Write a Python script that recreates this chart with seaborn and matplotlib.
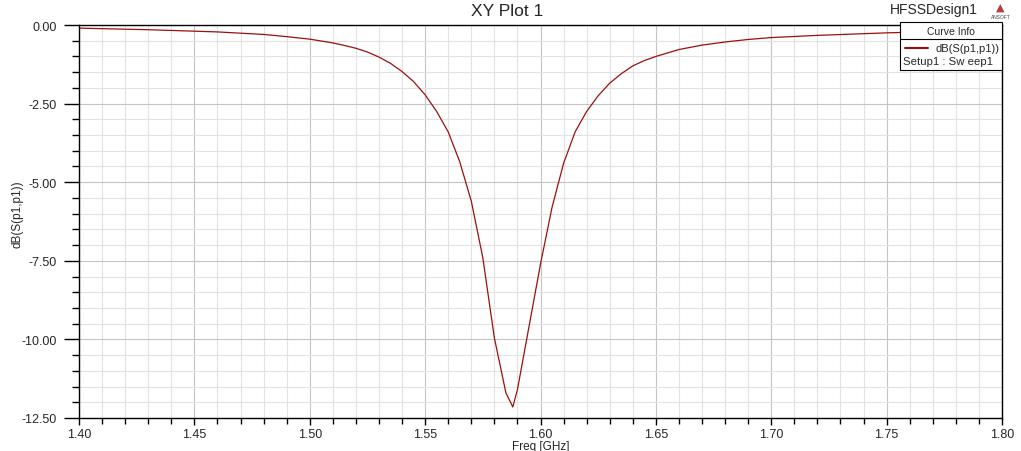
import matplotlib
matplotlib.use("Agg")
import matplotlib.pyplot as plt
import seaborn as sns
import pandas as pd
from matplotlib.ticker import MultipleLocator, FormatStrFormatter
from matplotlib.patches import Rectangle
from matplotlib.lines import Line2D

# values
freq = [1.40, 1.43, 1.46, 1.48, 1.49, 1.50, 1.505, 1.51, 1.515, 1.52, 1.525,
        1.53, 1.535, 1.54, 1.545, 1.55, 1.555, 1.56, 1.565, 1.57, 1.575,
        1.58, 1.585, 1.588, 1.59, 1.595, 1.60, 1.605, 1.61, 1.615, 1.62,
        1.625, 1.63, 1.635, 1.64, 1.645, 1.65, 1.66, 1.67, 1.68, 1.69,
        1.70, 1.72, 1.75, 1.78, 1.80]
s11_db = [-0.10, -0.15, -0.22, -0.30, -0.37, -0.45, -0.51, -0.57, -0.65, -0.74, -0.86,
          -1.02, -1.22, -1.48, -1.80, -2.22, -2.75, -3.40, -4.35, -5.60, -7.40,
          -9.95, -11.70, -12.15, -11.60, -9.60, -7.60, -5.80, -4.40, -3.40, -2.75,
          -2.25, -1.85, -1.55, -1.30, -1.13, -1.00, -0.78, -0.64, -0.54, -0.46,
          -0.40, -0.33, -0.25, -0.19, -0.16]

curve_label = "dB(S(p1,p1))"
sweep_label = "Setup1 : Sw eep1"

df = pd.DataFrame({"Freq [GHz]": freq, curve_label: s11_db})

sns.set_theme(style="white")
plt.rcParams["font.family"] = ["Liberation Sans", "DejaVu Sans"]

fig = plt.figure(figsize=(10.21, 4.52), dpi=100)
ax = fig.add_axes([79 / 1021, 1 - 419 / 452, (1002 - 79) / 1021, (419 - 26) / 452])

sns.lineplot(data=df, x="Freq [GHz]", y=curve_label, ax=ax, color="#9a1010",
             linewidth=0.9, sort=False, estimator=None)

ax.set_xlim(1.40, 1.80)
ax.set_ylim(-12.5, 0.0)
ax.xaxis.set_major_locator(MultipleLocator(0.05))
ax.xaxis.set_minor_locator(MultipleLocator(0.01))
ax.yaxis.set_major_locator(MultipleLocator(2.5))
ax.yaxis.set_minor_locator(MultipleLocator(0.5))
ax.xaxis.set_major_formatter(FormatStrFormatter("%.2f"))
ax.yaxis.set_major_formatter(FormatStrFormatter("%.2f"))

ax.grid(which="minor", color="#e2e2e2", linewidth=0.8)
ax.grid(which="major", color="#c4c4c4", linewidth=0.8)
ax.set_axisbelow(True)

for sp in ax.spines.values():
    sp.set_color("black")
    sp.set_linewidth(1.0)

ax.tick_params(axis="y", which="major", direction="out", length=11, width=1,
               color="black", labelsize=9, pad=5, left=True)
ax.tick_params(axis="y", which="minor", direction="out", length=5, width=1,
               color="black", left=True)
ax.tick_params(axis="x", which="major", direction="out", length=5, width=1,
               color="black", labelsize=9, pad=2, bottom=True)
ax.tick_params(axis="x", which="minor", direction="out", length=4, width=1,
               color="black", bottom=True)

ax.set_xlabel("Freq [GHz]", fontsize=8.5, labelpad=0)
ax.set_ylabel(curve_label, fontsize=8.5)
ax.yaxis.set_label_coords((23 - 79) / 923, 0.52)

fig.text(0.497, 0.975, "XY Plot 1", ha="center", va="center", fontsize=12.5)
fig.text(0.958, 0.978, "HFSSDesign1", ha="right", va="center", fontsize=10)
fig.text(0.980, 0.983, "\u25b2", ha="center", va="center", fontsize=8,
         color="#b04040", family=["DejaVu Sans"])
fig.text(0.980, 0.962, "ANSOFT", ha="center", va="center", fontsize=3.5,
         color="#444444")

# curve info box
bx0, bx1 = 900 / 1021, 1002 / 1021
by_top, by_sep, by_bot = 1 - 23 / 452, 1 - 40 / 452, 1 - 71 / 452
fig.patches.append(Rectangle((bx0, by_bot), bx1 - bx0, by_top - by_bot,
                             transform=fig.transFigure, facecolor="white",
                             edgecolor="black", linewidth=0.8, zorder=5))
fig.lines.append(Line2D([bx0, bx1], [by_sep, by_sep], transform=fig.transFigure,
                        color="black", linewidth=0.8, zorder=6))
fig.text((bx0 + bx1) / 2, (by_top + by_sep) / 2, "Curve Info", ha="center",
         va="center", fontsize=7.5, zorder=7)
fig.lines.append(Line2D([905 / 1021, 928 / 1021], [1 - 49 / 452, 1 - 49 / 452],
                        transform=fig.transFigure, color="#9a1010",
                        linewidth=1.5, zorder=7))
fig.text(999 / 1021, 1 - 49 / 452, curve_label, ha="right", va="center",
         fontsize=8, zorder=7)
fig.text(903 / 1021, 1 - 62 / 452, sweep_label, ha="left", va="center",
         fontsize=8.2, zorder=7)

fig.savefig("out.png", dpi=100)
